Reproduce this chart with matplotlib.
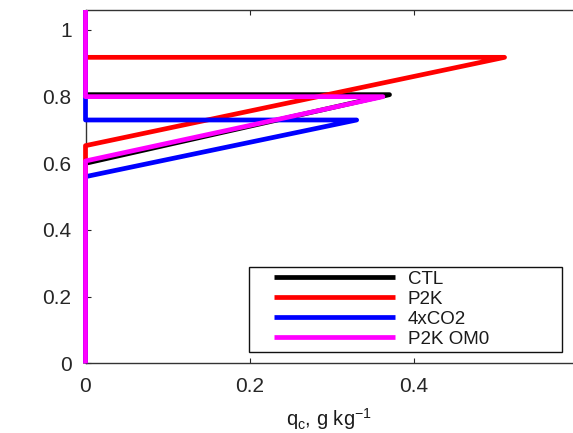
import matplotlib
matplotlib.use("Agg")
import matplotlib.pyplot as plt
from matplotlib.legend_handler import HandlerLine2D

plt.rcParams['font.family'] = ['Liberation Sans', 'DejaVu Sans']
plt.rcParams['mathtext.default'] = 'regular'

# Cloud liquid profiles: zero below cloud base, linear increase to the peak
# at cloud top, zero again above cloud top.
cases = ['CTL', 'P2K', '4xCO2', 'P2K OM0']
colors = ['#000000', '#ff0000', '#0000ff', '#ff00ff']
cloud_base = [0.600, 0.653, 0.560, 0.607]
cloud_top = [0.806, 0.918, 0.730, 0.800]
peak_qc = [0.370, 0.510, 0.330, 0.362]

y_top = 1.06
x_max = 0.6

fig = plt.figure(figsize=(5.73, 4.33), dpi=100)
ax = fig.add_axes([85.5 / 573, (433 - 363.3) / 433, 493 / 573, 353.3 / 433])

for name, col, zb, zt, qp in zip(cases, colors, cloud_base, cloud_top, peak_qc):
    z = [0.0, zb, zt, zt, y_top]
    q = [0.0, 0.0, qp, 0.0, 0.0]
    ax.plot(q, z, color=col, lw=3.4, label=name, clip_on=False, zorder=3,
            solid_joinstyle='round', solid_capstyle='butt')

ax.set_xlim(0, x_max)
ax.set_ylim(0, y_top)
ax.set_xticks([0, 0.2, 0.4])
ax.set_xticklabels(['0', '0.2', '0.4'])
ax.set_yticks([0, 0.2, 0.4, 0.6, 0.8, 1.0])
ax.set_yticklabels(['0', '0.2', '0.4', '0.6', '0.8', '1'])
ax.tick_params(direction='in', length=3.5, width=0.8, top=True, right=True,
               labelsize=15, pad=10, colors='#262626')
for s in ax.spines.values():
    s.set_color('#333333')
    s.set_linewidth(1.0)

ax.set_xlabel('$q_c$, g kg$^{-1}$', fontsize=14.5, color='#1a1a1a')
ax.xaxis.label.set_va('baseline')
ax.xaxis.set_label_coords(0.494, (363.3 - 426) / 353.3)

fs = 13.5
leg = ax.legend(loc='lower left',
                bbox_to_anchor=(0.331, 0.033, 0.635, 0.29),
                mode='expand', borderaxespad=0, fontsize=fs,
                handlelength=8.76, handletextpad=-0.48,
                borderpad=0.2, labelspacing=0.157,
                fancybox=False, framealpha=1, edgecolor='#111111',
                handler_map={plt.Line2D: HandlerLine2D(marker_pad=1.16,
                                                       numpoints=2)})
leg.set_zorder(5)
leg.get_frame().set_linewidth(1.0)
for t in leg.get_texts():
    t.set_color('#1a1a1a')

fig.savefig('out.png', dpi=100)
